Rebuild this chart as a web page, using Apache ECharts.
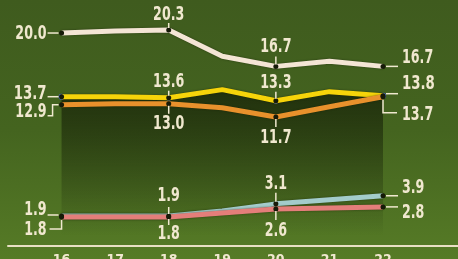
<!DOCTYPE html>
<html>
<head>
<meta charset="utf-8">
<script src="https://cdn.jsdelivr.net/npm/echarts@6/dist/echarts.min.js"></script>
<style>
  html, body { margin: 0; padding: 0; }
  #chart {
    width: 458px;
    height: 259px;
    background: linear-gradient(180deg, #3f5b1e 0%, #44641f 50%, #567b26 100%);
  }
</style>
</head>
<body>
<div id="chart"></div>
<script>
// x categories (years) and axis labels
const years = [16, 17, 18, 19, 20, 21, 22]
const yearLabels = ['16', '17', '18', '19', '20', '21', '22']

// series values, one per year
const whiteVals = [20.0, 20.2, 20.3, 17.7, 16.7, 17.2, 16.7]
const yellowVals = [13.7, 13.7, 13.6, 14.4, 13.3, 14.2, 13.8]
const orangeVals = [12.9, 13.0, 13.0, 12.6, 11.7, 12.7, 13.7]
const blueVals = [1.9, 1.9, 1.9, 2.4, 3.1, 3.5, 3.9]
const pinkVals = [1.8, 1.8, 1.8, 2.2, 2.6, 2.7, 2.8]

// years that carry a marker + value label
const markedYears = [16, 18, 20, 22]

const CREAM = '#f0e8cf'
const FONT = "'DejaVu Sans Condensed','DejaVu Sans',sans-serif"

const chart = echarts.init(document.getElementById('chart'), null, { renderer: 'canvas' })

function pts(vals) {
  return years.map((y, i) => ({
    value: [y, vals[i]],
    symbol: markedYears.includes(y) ? 'circle' : 'none'
  }))
}

function lineSeries(vals, color) {
  return {
    type: 'line',
    data: pts(vals),
    symbolSize: 5,
    showAllSymbol: true,
    z: 3,
    lineStyle: {
      color: color,
      width: 5,
      shadowColor: 'rgba(20,28,6,0.6)',
      shadowBlur: 2
    },
    itemStyle: { color: '#161a08' },
    emphasis: { disabled: true },
    animation: false
  }
}

const series = [
  // dark shade under the yellow line
  {
    type: 'line',
    data: pts(yellowVals),
    symbol: 'none',
    z: 1,
    lineStyle: { opacity: 0 },
    areaStyle: {
      opacity: 1,
      color: new echarts.graphic.LinearGradient(0, 0, 0, 1, [
        { offset: 0, color: 'rgba(26,38,10,0.82)' },
        { offset: 0.5, color: 'rgba(26,38,10,0.42)' },
        { offset: 1, color: 'rgba(26,38,10,0)' }
      ])
    },
    animation: false
  },
  lineSeries(whiteVals, '#f4e5d5'),
  lineSeries(yellowVals, '#f6d40a'),
  lineSeries(orangeVals, '#e8912c'),
  lineSeries(blueVals, '#a3cccb'),
  lineSeries(pinkVals, '#e47e7a')
]

chart.setOption({
  animation: false,
  grid: {
    left: 8, right: 0, top: 2.7, bottom: 13.7,
    containLabel: false,
    outerBoundsMode: 'none'
  },
  xAxis: {
    type: 'value',
    min: 15,
    max: 23.4,
    interval: 1,
    axisLine: { show: true, onZero: false, lineStyle: { color: '#e9e0c4', width: 2 } },
    axisTick: { show: false },
    splitLine: { show: false },
    axisLabel: {
      color: CREAM,
      fontSize: 14,
      fontWeight: 'bold',
      fontFamily: FONT,
      margin: 8,
      showMaxLabel: false,
      formatter: v => {
        const i = years.indexOf(v)
        return i >= 0 ? yearLabels[i] : ''
      }
    }
  },
  yAxis: {
    type: 'value',
    min: -1,
    max: 23,
    show: false
  },
  series: series
})

// value labels with leader lines: series index, data index, text anchor offset, leader path
const notes = [
  // year 16, labels to the left
  { s: 1, i: 0, tx: -15, ty: 1, align: 'right', path: [[-3, 0], [-14, 0]] },
  { s: 2, i: 0, tx: -15, ty: -3, align: 'right', size: 20, path: [[-3, 0], [-14, 0]] },
  { s: 3, i: 0, tx: -15, ty: 7, align: 'right', path: [[-3, 0], [-9, 0], [-9, 11], [-14, 11]] },
  { s: 4, i: 0, tx: -15, ty: -6, align: 'right', path: [[-3, -1], [-14, -1]] },
  { s: 5, i: 0, tx: -15, ty: 13, align: 'right', path: [[0, 3], [0, 12], [-12, 12]] },
  // year 18
  { s: 1, i: 2, tx: 0, ty: -15, align: 'center', path: [[0, -2], [0, -7]] },
  { s: 2, i: 2, tx: 0, ty: -16, align: 'center', path: [[0, -2], [0, -7]] },
  { s: 3, i: 2, tx: 0, ty: 20, align: 'center', path: [[0, 2], [0, 10]] },
  { s: 4, i: 2, tx: 0, ty: -20, align: 'center', path: [[0, -2], [0, -9]] },
  { s: 5, i: 2, tx: 0, ty: 17, align: 'center', path: [[0, 2], [0, 8]] },
  // year 20
  { s: 1, i: 4, tx: 0, ty: -19, align: 'center', path: [[0, -2], [0, -10]] },
  { s: 2, i: 4, tx: 0, ty: -18, align: 'center', path: [[0, -2], [0, -9]] },
  { s: 3, i: 4, tx: 0, ty: 21, align: 'center', path: [[0, 2], [0, 10]] },
  { s: 4, i: 4, tx: 0, ty: -20, align: 'center', path: [[0, -2], [0, -11]] },
  { s: 5, i: 4, tx: 0, ty: 22, align: 'center', path: [[0, 2], [0, 11]] },
  // year 22, labels to the right
  { s: 1, i: 6, tx: 19, ty: -8, align: 'left', path: [[3, 0], [15, 0]] },
  { s: 2, i: 6, tx: 19, ty: -12, align: 'left', size: 20, path: [[3, -2], [15, -2]] },
  { s: 3, i: 6, tx: 19, ty: 18, align: 'left', path: [[0, 3], [0, 16], [14, 16]] },
  { s: 4, i: 6, tx: 19, ty: -8, align: 'left', path: [[3, 0], [15, 0]] },
  { s: 5, i: 6, tx: 19, ty: 6, align: 'left', path: [[3, 0], [15, 0]] }
]

const valueSets = [null, whiteVals, yellowVals, orangeVals, blueVals, pinkVals]

function drawNotes() {
  const els = []
  notes.forEach(n => {
    const v = valueSets[n.s][n.i]
    const [px, py] = chart.convertToPixel({ xAxisIndex: 0, yAxisIndex: 0 }, [years[n.i], v])
    els.push({
      type: 'polyline',
      z: 10,
      shape: { points: n.path.map(p => [px + p[0], py + p[1]]) },
      style: { stroke: CREAM, lineWidth: 1.5, fill: null }
    })
    // condensed look: squeeze the text horizontally around its anchor
    els.push({
      type: 'text',
      z: 10,
      x: px + n.tx,
      y: py + n.ty,
      scaleX: 0.74,
      style: {
        text: v.toFixed(1),
        fill: CREAM,
        fontSize: n.size || 19,
        fontWeight: 'bold',
        fontFamily: FONT,
        textAlign: n.align,
        textVerticalAlign: 'middle'
      }
    })
  })
  chart.setOption({ graphic: els })
}

drawNotes()
</script>
</body>
</html>
